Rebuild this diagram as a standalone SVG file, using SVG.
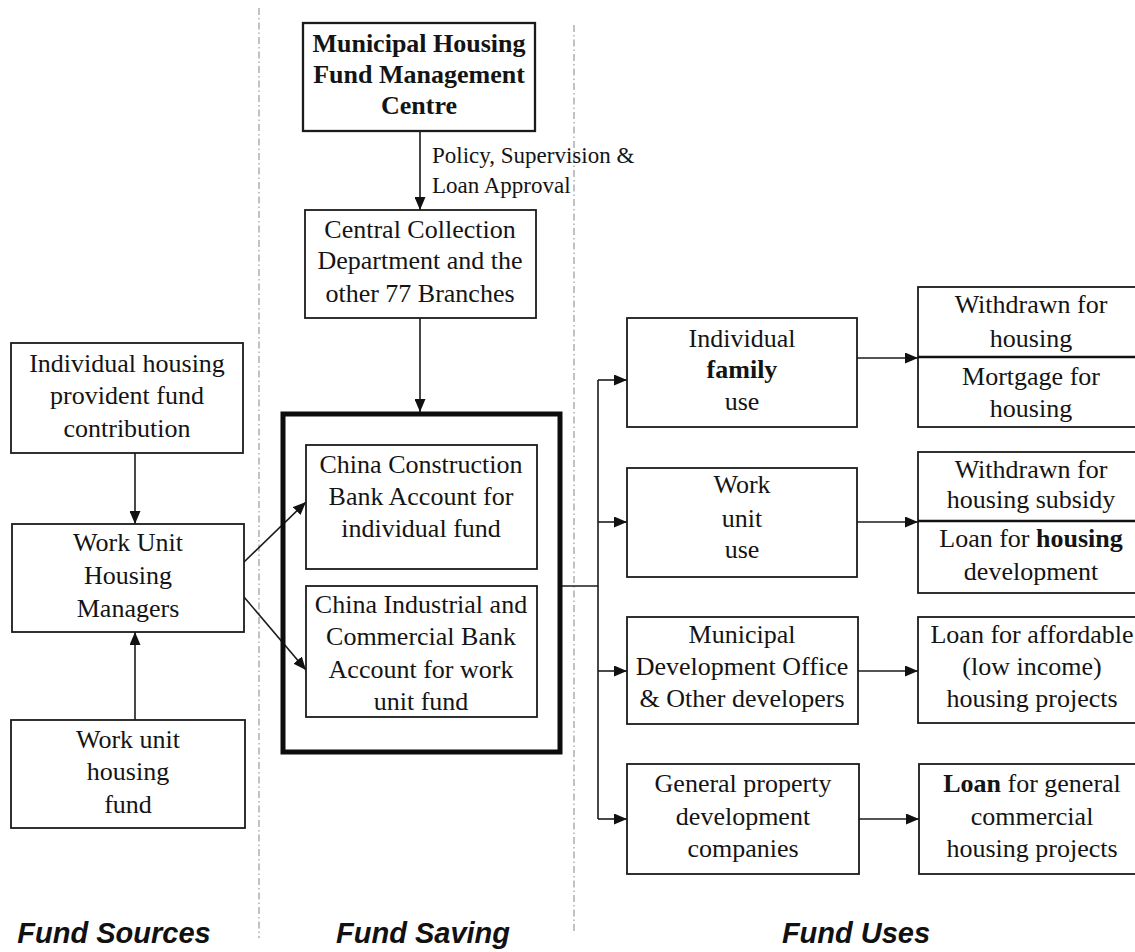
<svg xmlns="http://www.w3.org/2000/svg" width="1135" height="952" viewBox="0 0 1135 952">
  <style>
    .box { fill: #ffffff; stroke: #1b1b1b; stroke-width: 1.8; }
    .heavy { stroke-width: 2.3; }
    .frame { fill: none; stroke: #0d0d0d; stroke-width: 5; }
    .div { stroke: #111111; stroke-width: 2.5; }
    .t { font-family: "Liberation Serif", "Times New Roman", serif; font-size: 26px; fill: #141414; text-anchor: middle; }
    .lbl { font-family: "Liberation Serif", "Times New Roman", serif; font-size: 23px; fill: #141414; }
    .b { font-weight: bold; }
    .col { font-family: "Liberation Sans", Arial, sans-serif; font-size: 29px; font-weight: bold; font-style: italic; fill: #111111; text-anchor: middle; }
    .sep { stroke: #9a9a9a; stroke-width: 1.2; stroke-dasharray: 7 3 1.5 3; fill: none; }
    .ln { stroke: #1b1b1b; stroke-width: 1.6; fill: none; }
    .arr { marker-end: url(#head); }
  </style>
  <defs>
    <marker id="head" markerUnits="userSpaceOnUse" markerWidth="13" markerHeight="11" refX="13" refY="5.5" orient="auto">
      <path d="M0,0 L13,5.5 L0,11 z" fill="#111111"/>
    </marker>
  </defs>

  <rect width="1135" height="952" fill="#ffffff"/>

  <!-- column separators -->
  <g id="separators">
    <line class="sep" x1="259" y1="8" x2="259" y2="938"/>
    <line class="sep" x1="574" y1="25" x2="574" y2="932"/>
  </g>

  <!-- connectors -->
  <g id="connectors">
    <line class="ln arr" x1="420" y1="131" x2="420" y2="210"/>
    <line class="ln arr" x1="420" y1="318" x2="420" y2="412"/>
    <line class="ln arr" x1="135" y1="453" x2="135" y2="524"/>
    <line class="ln arr" x1="135" y1="720" x2="135" y2="632"/>
    <line class="ln arr" x1="244" y1="562" x2="306" y2="502"/>
    <line class="ln arr" x1="244" y1="597" x2="306" y2="670"/>
    <polyline class="ln" points="562,586 598,586"/>
    <line class="ln" x1="598" y1="380" x2="598" y2="819"/>
    <line class="ln arr" x1="598" y1="380" x2="627" y2="380"/>
    <line class="ln arr" x1="598" y1="522" x2="627" y2="522"/>
    <line class="ln arr" x1="598" y1="671" x2="627" y2="671"/>
    <line class="ln arr" x1="598" y1="819" x2="627" y2="819"/>
    <line class="ln arr" x1="857" y1="358" x2="918" y2="358"/>
    <line class="ln arr" x1="857" y1="522" x2="918" y2="522"/>
    <line class="ln arr" x1="858" y1="671" x2="918" y2="671"/>
    <line class="ln arr" x1="859" y1="819" x2="919" y2="819"/>
  </g>

  <!-- Fund Sources column -->
  <g id="individual-contribution">
    <rect class="box" x="11" y="343" width="232" height="110"/>
    <text class="t" x="127" y="372">Individual housing</text>
    <text class="t" x="127" y="404">provident fund</text>
    <text class="t" x="127" y="437">contribution</text>
  </g>
  <g id="work-unit-managers">
    <rect class="box" x="12" y="524" width="232" height="108"/>
    <text class="t" x="128" y="551">Work Unit</text>
    <text class="t" x="128" y="584">Housing</text>
    <text class="t" x="128" y="617">Managers</text>
  </g>
  <g id="work-unit-fund">
    <rect class="box" x="11" y="720" width="234" height="108"/>
    <text class="t" x="128" y="748">Work unit</text>
    <text class="t" x="128" y="780">housing</text>
    <text class="t" x="128" y="813">fund</text>
  </g>

  <!-- Fund Saving column -->
  <g id="management-centre">
    <rect class="box heavy" x="303" y="23" width="232" height="108"/>
    <text class="t b" x="419" y="52">Municipal Housing</text>
    <text class="t b" x="419" y="83">Fund Management</text>
    <text class="t b" x="419" y="114">Centre</text>
  </g>
  <g id="policy-label">
    <text class="lbl" x="432" y="163">Policy, Supervision &amp;</text>
    <text class="lbl" x="432" y="193">Loan Approval</text>
  </g>
  <g id="central-collection">
    <rect class="box" x="305" y="210" width="231" height="108"/>
    <text class="t" x="420" y="238">Central Collection</text>
    <text class="t" x="420" y="269">Department and the</text>
    <text class="t" x="420" y="302">other 77 Branches</text>
  </g>
  <g id="bank-accounts">
    <rect class="frame" x="283" y="414" width="277" height="338"/>
  </g>
  <g id="ccb-account">
    <rect class="box" x="306" y="445" width="231" height="124"/>
    <text class="t" x="421" y="473">China Construction</text>
    <text class="t" x="421" y="505">Bank Account for</text>
    <text class="t" x="421" y="537">individual fund</text>
  </g>
  <g id="icbc-account">
    <rect class="box" x="306" y="586" width="231" height="131"/>
    <text class="t" x="421" y="613">China Industrial and</text>
    <text class="t" x="421" y="645">Commercial Bank</text>
    <text class="t" x="421" y="678">Account for work</text>
    <text class="t" x="421" y="710">unit fund</text>
  </g>

  <!-- Fund Uses column -->
  <g id="family-use">
    <rect class="box" x="627" y="318" width="230" height="109"/>
    <text class="t" x="742" y="347">Individual</text>
    <text class="t b" x="742" y="378">family</text>
    <text class="t" x="742" y="410">use</text>
  </g>
  <g id="family-outcomes">
    <rect class="box" x="918" y="287" width="230" height="140"/>
    <line class="div" x1="918" y1="357" x2="1135" y2="357"/>
    <text class="t" x="1031" y="313">Withdrawn for</text>
    <text class="t" x="1031" y="347">housing</text>
    <text class="t" x="1031" y="385">Mortgage for</text>
    <text class="t" x="1031" y="417">housing</text>
  </g>
  <g id="work-unit-use">
    <rect class="box" x="627" y="468" width="230" height="109"/>
    <text class="t" x="742" y="493">Work</text>
    <text class="t" x="742" y="527">unit</text>
    <text class="t" x="742" y="558">use</text>
  </g>
  <g id="work-unit-outcomes">
    <rect class="box" x="918" y="452" width="230" height="141"/>
    <line class="div" x1="918" y1="521" x2="1135" y2="521"/>
    <text class="t" x="1031" y="478">Withdrawn for</text>
    <text class="t" x="1031" y="508">housing subsidy</text>
    <text class="t" x="1031" y="547">Loan for <tspan class="b">housing</tspan></text>
    <text class="t" x="1031" y="580">development</text>
  </g>
  <g id="municipal-developers">
    <rect class="box" x="627" y="617" width="231" height="107"/>
    <text class="t" x="742" y="643">Municipal</text>
    <text class="t" x="742" y="675">Development Office</text>
    <text class="t" x="742" y="707">&amp; Other developers</text>
  </g>
  <g id="affordable-loans">
    <rect class="box" x="918" y="617" width="230" height="106"/>
    <text class="t" x="1032" y="643">Loan for affordable</text>
    <text class="t" x="1032" y="675">(low income)</text>
    <text class="t" x="1032" y="707">housing projects</text>
  </g>
  <g id="property-companies">
    <rect class="box" x="627" y="764" width="232" height="110"/>
    <text class="t" x="743" y="792">General property</text>
    <text class="t" x="743" y="825">development</text>
    <text class="t" x="743" y="857">companies</text>
  </g>
  <g id="commercial-loans">
    <rect class="box" x="919" y="764" width="230" height="110"/>
    <text class="t" x="1032" y="792"><tspan class="b">Loan</tspan> for general</text>
    <text class="t" x="1032" y="825">commercial</text>
    <text class="t" x="1032" y="857">housing projects</text>
  </g>

  <!-- column headings -->
  <g id="headings">
    <text class="col" x="114" y="943">Fund Sources</text>
    <text class="col" x="423" y="943">Fund Saving</text>
    <text class="col" x="856" y="943">Fund Uses</text>
  </g>
</svg>
